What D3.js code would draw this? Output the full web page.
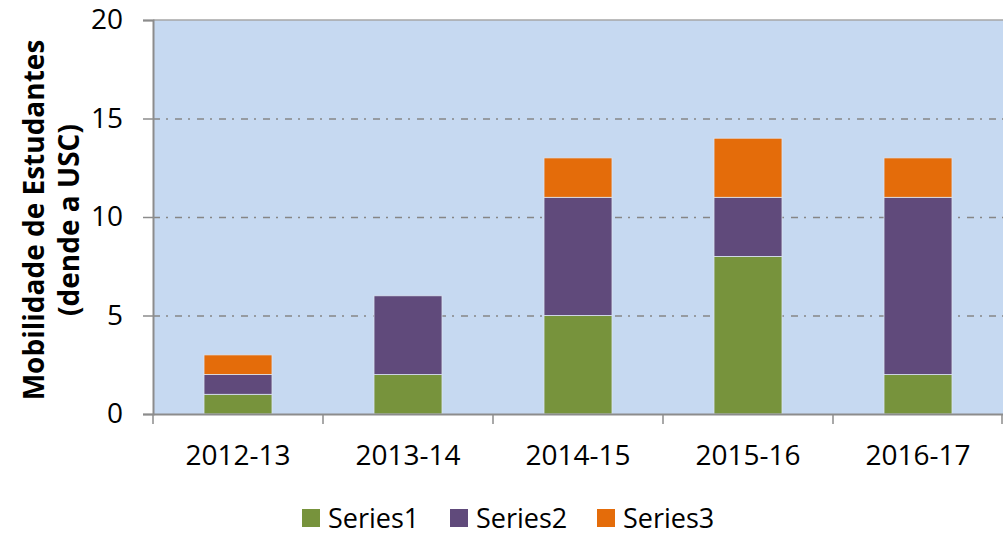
<!DOCTYPE html>
<html>
<head>
<meta charset="utf-8">
<script src="https://cdn.jsdelivr.net/npm/d3@7"></script>
<style>
  body { margin: 0; background: #fff; }
  svg, svg text { font-family: "Open Sans", "Liberation Sans", sans-serif; }
</style>
</head>
<body>
<div id="chart"></div>
<script>
const years = ['2012-13', '2013-14', '2014-15', '2015-16', '2016-17'];
const series1 = [1, 2, 5, 8, 2];
const series2 = [1, 4, 6, 3, 9];
const series3 = [1, 0, 2, 3, 2];
const seriesNames = ['Series1', 'Series2', 'Series3'];
const colors = ['#77933c', '#604a7b', '#e46c0a'];
const yTicks = [0, 5, 10, 15, 20];

const width = 1003;
const height = 535;
const margin = { top: 20, right: 0, bottom: 121, left: 153 };

const rows = years.map((y, i) => ({ year: y, Series1: series1[i], Series2: series2[i], Series3: series3[i] }));
const stacked = d3.stack().keys(seriesNames)(rows);

const svg = d3.select('#chart')
  .append('svg')
  .attr('width', width)
  .attr('height', height);

const x = d3.scaleBand()
  .domain(years)
  .range([margin.left, width - margin.right])
  .paddingInner(0.6)
  .paddingOuter(0.3);

const xOuter = d3.scaleBand()
  .domain(years)
  .range([margin.left, width - margin.right]);

const y = d3.scaleLinear()
  .domain([0, 20])
  .range([height - margin.bottom, margin.top]);

// plot background
svg.append('rect')
  .attr('x', margin.left)
  .attr('y', y(20))
  .attr('width', width - margin.right - margin.left)
  .attr('height', y(0) - y(20))
  .attr('fill', '#c6d9f1');

// gridlines
svg.append('g')
  .selectAll('line')
  .data(yTicks.filter(d => d > 0 && d < 20))
  .join('line')
    .attr('x1', margin.left)
    .attr('x2', width - margin.right)
    .attr('y1', d => y(d) + 0.5)
    .attr('y2', d => y(d) + 0.5)
    .attr('stroke', '#868686')
    .attr('stroke-width', 1.5)
    .attr('stroke-dasharray', '7,6,2,7');

// top border
svg.append('line')
  .attr('x1', margin.left)
  .attr('x2', width)
  .attr('y1', y(20))
  .attr('y2', y(20))
  .attr('stroke', '#a6a6a6')
  .attr('stroke-width', 1.5);

// bars
svg.append('g')
  .selectAll('g')
  .data(stacked)
  .join('g')
    .attr('fill', (d, i) => colors[i])
  .selectAll('rect')
  .data(d => d.filter(s => s[1] > s[0]))
  .join('rect')
    .attr('x', d => x(d.data.year))
    .attr('y', d => y(d[1]))
    .attr('width', x.bandwidth())
    .attr('height', d => y(d[0]) - y(d[1]))
    .attr('stroke', '#dce6f2')
    .attr('stroke-width', 0.8);

// y axis
const yAxis = svg.append('g')
  .attr('transform', `translate(${margin.left},0)`)
  .call(d3.axisLeft(y).tickValues(yTicks).tickSize(10).tickPadding(20));
yAxis.attr('font-family', null);
yAxis.select('.domain').attr('stroke', '#8c8c8c').attr('stroke-width', 2);
yAxis.selectAll('.tick line').attr('stroke', '#8c8c8c').attr('stroke-width', 1.5);
yAxis.selectAll('.tick text').attr('font-size', '28px').attr('fill', '#000');

// x axis
const xAxis = svg.append('g')
  .attr('transform', `translate(0,${y(0)})`)
  .call(d3.axisBottom(xOuter).tickSize(0).tickPadding(31));
xAxis.attr('font-family', null);
xAxis.select('.domain').attr('stroke', '#8c8c8c').attr('stroke-width', 2);
xAxis.selectAll('.tick text').attr('font-size', '28px').attr('fill', '#000');

svg.append('g')
  .selectAll('line')
  .data(years.concat(['end']))
  .join('line')
    .attr('x1', (d, i) => i < years.length ? xOuter(d) : width - margin.right - 1)
    .attr('x2', (d, i) => i < years.length ? xOuter(d) : width - margin.right - 1)
    .attr('y1', y(0))
    .attr('y2', y(0) + 10)
    .attr('stroke', '#8c8c8c')
    .attr('stroke-width', 1.5);

// y axis title
svg.append('text')
  .attr('transform', `translate(44,${(y(0) + y(20)) / 2 + 3}) rotate(-90)`)
  .attr('text-anchor', 'middle')
  .attr('font-size', '28px')
  .attr('font-weight', 'bold')
  .selectAll('tspan')
  .data(['Mobilidade de Estudantes', '(dende a USC)'])
  .join('tspan')
    .attr('x', 0)
    .attr('dy', (d, i) => i === 0 ? 0 : 35)
    .text(d => d);

// legend
const legendX = [302, 450, 597];
const legend = svg.append('g')
  .selectAll('g')
  .data(seriesNames)
  .join('g')
    .attr('transform', (d, i) => `translate(${legendX[i]},509)`);
legend.append('rect')
  .attr('width', 18)
  .attr('height', 18)
  .attr('fill', (d, i) => colors[i]);
legend.append('text')
  .attr('x', 26)
  .attr('y', 19)
  .attr('font-size', '27px')
  .text(d => d);
</script>
</body>
</html>
